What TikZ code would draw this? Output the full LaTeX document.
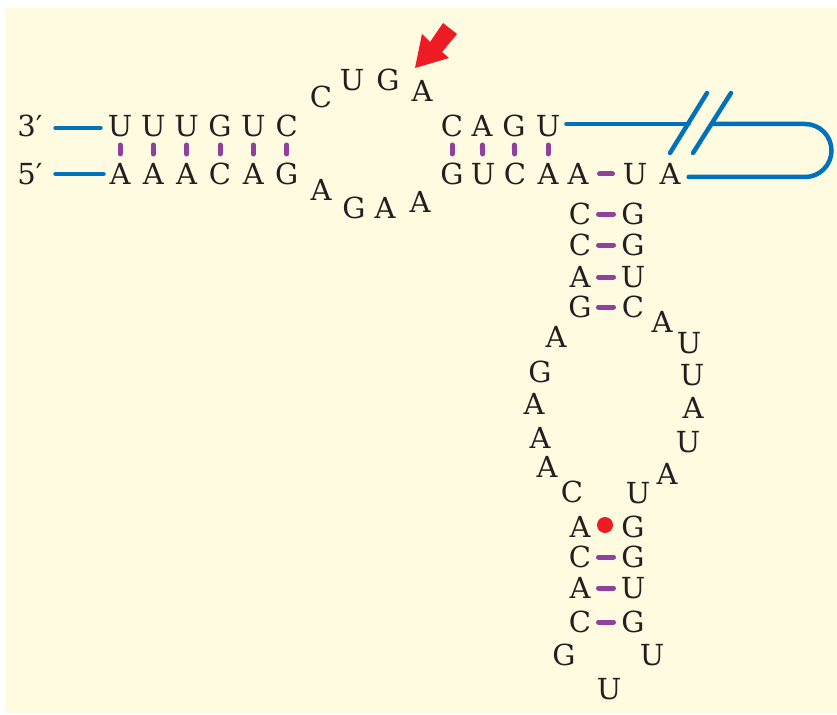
\documentclass[tikz,border=0pt]{standalone}
\usepackage{fontspec}
\setmainfont{DejaVu Serif}
\usepackage{tikz}
\definecolor{bgy}{RGB}{255,251,225}
\definecolor{nblue}{RGB}{0,114,188}
\definecolor{npurple}{RGB}{142,66,156}
\definecolor{nred}{RGB}{237,28,36}
\definecolor{ntext}{RGB}{35,31,32}
\begin{document}
\begin{tikzpicture}[x=1pt,y=-1pt,
  nt/.style={inner sep=0pt, text=ntext, font=\fontsize{29}{29}\selectfont, text height=21.5pt, text depth=0pt, anchor=center},
  vbar/.style={draw=npurple, line width=5pt, line cap=round, shorten <=19pt, shorten >=20pt},
  hbar/.style={draw=npurple, line width=5pt, line cap=round, shorten <=18.5pt, shorten >=19.5pt},
  bl/.style={draw=nblue, line width=4.5pt, line cap=round}]
\useasboundingbox (0,0) rectangle (837,714);
\fill[bgy] (5,8) rectangle (837,713);
% 5'/3' labels
\node[nt] (p3) at (30,126) {3′};
\node[nt] (p5) at (30,174) {5′};
% left helix top (3' strand)
\node[nt] (t1) at (120,126) {U};
\node[nt] (t2) at (153.3,126) {U};
\node[nt] (t3) at (186.6,126) {U};
\node[nt] (t4) at (220,126) {G};
\node[nt] (t5) at (253.3,126) {U};
\node[nt] (t6) at (286.6,126) {C};
% left helix bottom (5' strand)
\node[nt] (b1) at (120,174) {A};
\node[nt] (b2) at (153.3,174) {A};
\node[nt] (b3) at (186.6,174) {A};
\node[nt] (b4) at (220,174) {C};
\node[nt] (b5) at (253.3,174) {A};
\node[nt] (b6) at (286.6,174) {G};
% upper loop
\node[nt] (ul1) at (321,97) {C};
\node[nt] (ul2) at (352,80) {U};
\node[nt] (ul3) at (388,80) {G};
\node[nt] (ul4) at (422,91) {A};
% lower loop
\node[nt] (ll1) at (321,190) {A};
\node[nt] (ll2) at (354,208) {G};
\node[nt] (ll3) at (385,208) {A};
\node[nt] (ll4) at (420,202) {A};
% right helix top
\node[nt] (rt1) at (452,126) {C};
\node[nt] (rt2) at (482,126) {A};
\node[nt] (rt3) at (514,126) {G};
\node[nt] (rt4) at (548,126) {U};
% right helix bottom
\node[nt] (rb1) at (452,174) {G};
\node[nt] (rb2) at (483,174) {U};
\node[nt] (rb3) at (515,174) {C};
\node[nt] (rb4) at (548,174) {A};
\node[nt] (rb5) at (578,174) {A};
\node[nt] (rb6) at (635,174) {U};
\node[nt] (rb7) at (670,174) {A};
% stem
\node[nt] (s1l) at (580,214) {C}; \node[nt] (s1r) at (633,214) {G};
\node[nt] (s2l) at (580,245) {C}; \node[nt] (s2r) at (633,245) {G};
\node[nt] (s3l) at (580,277) {A}; \node[nt] (s3r) at (633,277) {U};
\node[nt] (s4l) at (580,307) {G}; \node[nt] (s4r) at (633,307) {C};
% internal loop left
\node[nt] (il1) at (556,337) {A};
\node[nt] (il2) at (540,372) {G};
\node[nt] (il3) at (534,404) {A};
\node[nt] (il4) at (540,438) {A};
\node[nt] (il5) at (547,467) {A};
\node[nt] (il6) at (572,492) {C};
% internal loop right
\node[nt] (ir1) at (662,322) {A};
\node[nt] (ir2) at (689,343) {U};
\node[nt] (ir3) at (692,375) {U};
\node[nt] (ir4) at (693,408) {A};
\node[nt] (ir5) at (688,442) {U};
\node[nt] (ir6) at (667,474) {A};
\node[nt] (ir7) at (638,493) {U};
% lower stem
\node[nt] (q1l) at (580,527) {A}; \node[nt] (q1r) at (633,527) {G};
\node[nt] (q2l) at (580,557) {C}; \node[nt] (q2r) at (633,557) {G};
\node[nt] (q3l) at (580,588) {A}; \node[nt] (q3r) at (633,588) {U};
\node[nt] (q4l) at (580,622) {C}; \node[nt] (q4r) at (633,622) {G};
% hairpin loop
\node[nt] (h1) at (564,655) {G};
\node[nt] (h2) at (652,655) {U};
\node[nt] (h3) at (609,689) {U};
% red dot (non-canonical pair)
\node[circle, fill=nred, inner sep=0pt, minimum size=16pt] (dot) at (605,525) {};
% vertical base-pair bars
\foreach \a/\b in {t1/b1,t2/b2,t3/b3,t4/b4,t5/b5,t6/b6,rt1/rb1,rt2/rb2,rt3/rb3,rt4/rb4}
  \draw[vbar] (\a.center) -- (\b.center);
% horizontal base-pair bars
\draw[hbar, shorten <=21.5pt, shorten >=22.5pt] (rb5.center) -- (rb6.center);
\foreach \a/\b in {s1l/s1r,s2l/s2r,s3l/s3r,s4l/s4r,q2l/q2r,q3l/q3r,q4l/q4r}
  \draw[hbar] (\a.center) -- (\b.center);
% blue backbone ends
\draw[bl, shorten <=25.5pt, shorten >=19.5pt] ([yshift=-2pt]p3.center) -- ([yshift=-2pt]t1.center);
\draw[bl, shorten <=25.5pt, shorten >=16.5pt] (p5.center) -- (b1.center);
\coordinate (brk1) at (688.5,124);
\coordinate (brk2) at (712,124);
\coordinate (r1) at (805,124);
\coordinate (r2) at (805,177);
\coordinate (sa1) at (670,153); \coordinate (sa2) at (707,93);
\coordinate (sb1) at (693,153); \coordinate (sb2) at (731,93);
\draw[bl] ([xshift=6pt]rt4.east |- brk1) -- (brk1);
\draw[bl, rounded corners=26.5pt] (brk2) -- (831.5,124) -- (831.5,177) -- ([xshift=8pt]rb7.east |- r2);
\draw[bl] (sa1) -- (sa2);
\draw[bl] (sb1) -- (sb2);
% red arrow
\fill[nred] (415,68) -- (422,34) -- (430,42) -- (443,23) -- (457,34) -- (442,52) -- (449,58) -- cycle;
\end{tikzpicture}
\end{document}
